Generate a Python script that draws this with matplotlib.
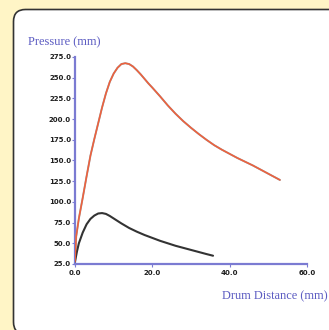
import matplotlib
matplotlib.use("Agg")
import matplotlib.pyplot as plt
from matplotlib.patches import FancyBboxPatch
from matplotlib.transforms import Affine2D

# ---- data ----
red_x = [0, 0.3, 1, 2, 3, 4, 5, 6, 7, 8, 9, 10, 11, 12, 13, 14, 15, 16, 17, 18, 19, 20,
         22, 24, 26, 28, 30, 32, 34, 36, 38, 40, 42, 44, 46, 48, 50, 52, 53]
red_y = [28, 58, 80, 105, 131, 156, 176, 195, 214, 231, 245, 255, 262, 266.5, 267.5, 266.5,
         263.5, 259, 254, 248.5, 243, 238, 227.5, 216.5, 206.5, 197.5, 189.5, 182, 175, 168.5,
         163, 158, 153, 148.5, 144, 139, 134, 129, 126.5]

blk_x = [0, 0.5, 1, 2, 3, 4, 5, 6, 7, 8, 9, 10, 12, 14, 16, 18, 20, 22, 24, 26, 28, 30,
         32, 34, 35.7]
blk_y = [28, 40, 50, 63, 73, 79.5, 83.5, 86, 86.5, 85.5, 83, 80, 74, 68.5, 64, 60, 56.5,
         53, 50, 47, 44.5, 42, 39.5, 37, 35]

x_ticks = [0, 20, 40, 60]
y_ticks = [25, 50, 75, 100, 125, 150, 175, 200, 225, 250, 275]
x_label = "Drum Distance (mm)"
y_label = "Pressure (mm)"

W, H = 329, 330
fig = plt.figure(figsize=(W / 100, H / 100), dpi=100)
fig.patch.set_facecolor("#fff5c6")

px = Affine2D().scale(1 / W, 1 / H) + fig.transFigure
panel = FancyBboxPatch((13.5, -4), 335, 324.5,
                       boxstyle="round,pad=0,rounding_size=12",
                       facecolor="white", edgecolor="#333333", linewidth=1.2,
                       transform=px, zorder=-10)
fig.add_artist(panel)

L, R, T, B = 75, 307, 57, 264
ax = fig.add_axes([L / W, (H - B) / H, (R - L) / W, (B - T) / H])
ax.set_zorder(5)
ax.set_facecolor("none")
ax.set_xlim(0, 60)
ax.set_ylim(25, 275)

axis_col = "#7b7bd2"
for s in ["top", "right"]:
    ax.spines[s].set_visible(False)
for s in ["left", "bottom"]:
    ax.spines[s].set_color(axis_col)
    ax.spines[s].set_linewidth(1.6)

ax.plot(red_x, red_y, color="#9a9a9a", lw=1.4, solid_capstyle="round",
        solid_joinstyle="round", zorder=3)
ax.plot(red_x, red_y, color="#f0603c", lw=1.1, solid_capstyle="round",
        solid_joinstyle="round", zorder=4)
ax.plot(blk_x, blk_y, color="#333333", lw=1.5, solid_capstyle="round",
        solid_joinstyle="round", zorder=3)

ax.set_xticks(x_ticks)
ax.set_xticklabels([f"{v:.1f}" for v in x_ticks])
ax.set_yticks(y_ticks)
ax.set_yticklabels([f"{v:.1f}" for v in y_ticks])
ax.tick_params(axis="both", colors=axis_col, length=2, width=0.8, labelcolor="#1e1e1e",
               labelsize=5)
ax.tick_params(axis="y", pad=0.8)
ax.tick_params(axis="x", pad=2.5)
for lab in ax.get_xticklabels() + ax.get_yticklabels():
    lab.set_fontweight("bold")

fig.text(28 / W, (H - 42) / H, y_label, color="#5c5cc2", fontsize=9,
         family="Liberation Serif", ha="left", va="center")
fig.text(328 / W, (H - 296) / H, x_label, color="#5c5cc2", fontsize=8.9,
         family="Liberation Serif", ha="right", va="center")

fig.savefig("out.png", dpi=100, facecolor=fig.get_facecolor())
